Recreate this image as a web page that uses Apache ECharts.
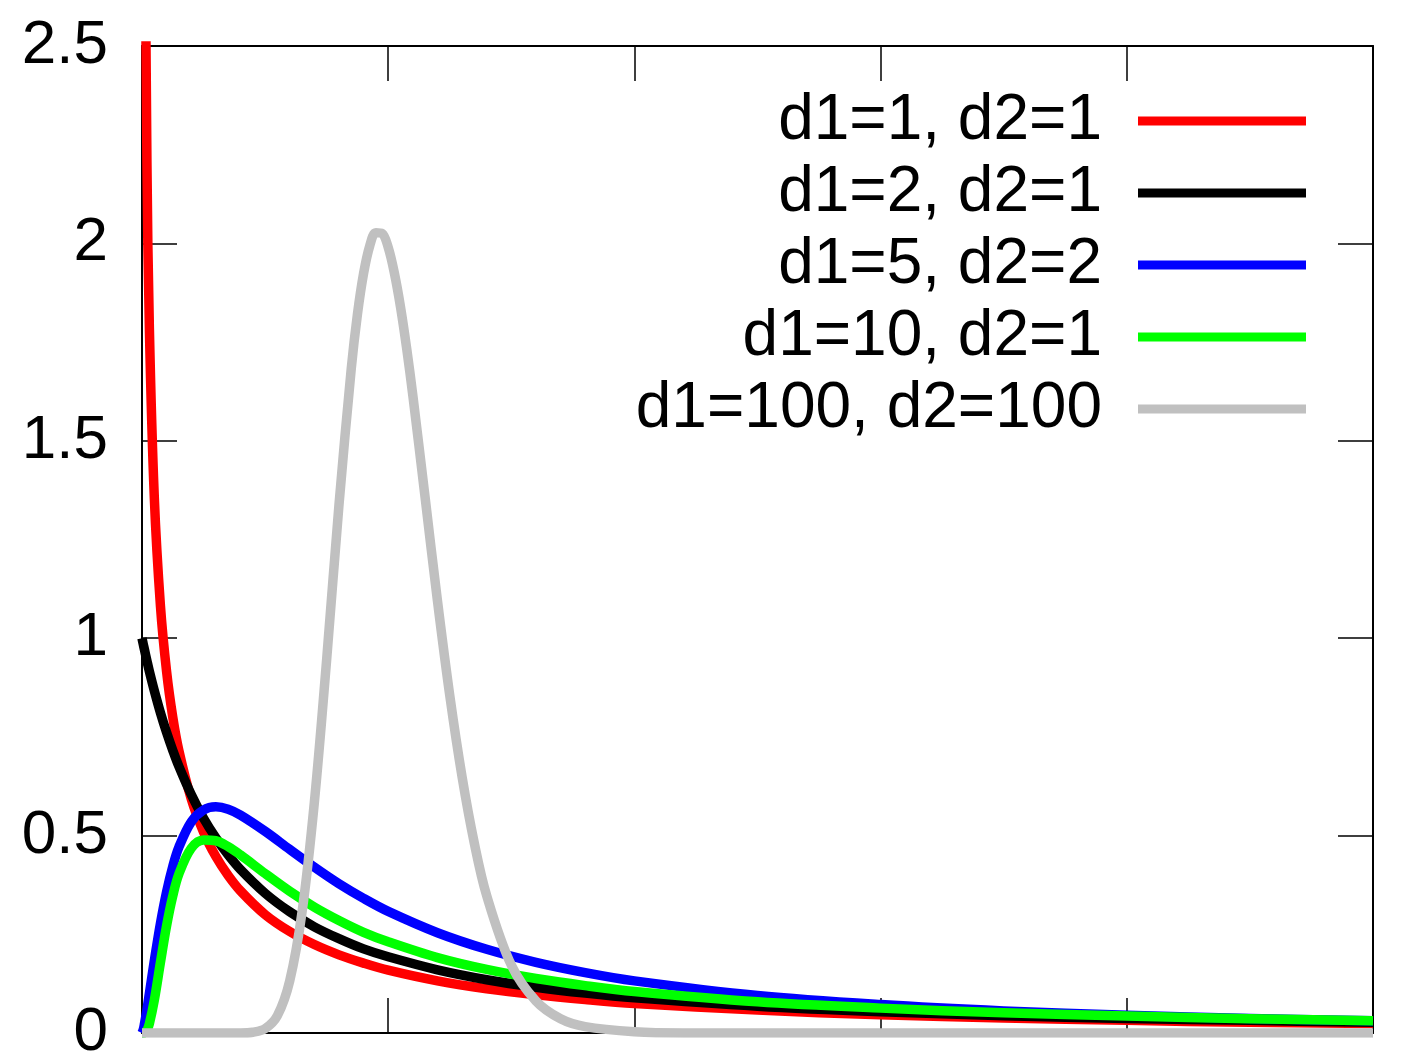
<!DOCTYPE html>
<html>
<head>
<meta charset="utf-8">
<title>F-distribution pdf</title>
<script src="https://cdn.jsdelivr.net/npm/echarts@6/dist/echarts.min.js"></script>
<style>
  html, body { margin: 0; padding: 0; background: #fff; }
  #chart { width: 1428px; height: 1062px; }
</style>
</head>
<body>
<div id="chart"></div>
<script>
// x positions shared by the first four curves
const xs = [0, 0.005, 0.01, 0.02, 0.03, 0.05, 0.075, 0.1, 0.125, 0.15, 0.2, 0.25, 0.3, 0.35, 0.4,
  0.5, 0.6, 0.7, 0.8, 0.9, 1.0, 1.2, 1.4, 1.6, 1.8, 2.0, 2.5, 3.0, 3.5, 4.0, 4.5, 5.0];

const pdf_1_1 = [null, 4.48, 3.152, 2.207, 1.784, 1.356, 1.081, 0.915, 0.800, 0.715, 0.593, 0.509, 0.447, 0.399, 0.360,
  0.300, 0.257, 0.224, 0.198, 0.177, 0.159, 0.132, 0.112, 0.097, 0.085, 0.075, 0.058, 0.046, 0.038, 0.032, 0.027, 0.024];
const pdf_2_1 = [1, 0.985, 0.971, 0.943, 0.916, 0.867, 0.811, 0.761, 0.716, 0.675, 0.604, 0.544, 0.494, 0.451, 0.414,
  0.354, 0.307, 0.269, 0.239, 0.213, 0.193, 0.160, 0.135, 0.116, 0.101, 0.089, 0.068, 0.054, 0.044, 0.037, 0.032, 0.027];
const pdf_5_2 = [0, 0.008, 0.023, 0.059, 0.100, 0.183, 0.278, 0.358, 0.422, 0.471, 0.535, 0.565, 0.573, 0.567, 0.552,
  0.511, 0.465, 0.420, 0.378, 0.341, 0.308, 0.254, 0.212, 0.179, 0.153, 0.132, 0.095, 0.072, 0.056, 0.045, 0.037, 0.031];
const pdf_10_1 = [0, 0.000, 0.001, 0.007, 0.024, 0.083, 0.179, 0.272, 0.347, 0.403, 0.468, 0.489, 0.487, 0.472, 0.451,
  0.404, 0.359, 0.319, 0.285, 0.255, 0.231, 0.191, 0.161, 0.138, 0.120, 0.105, 0.079, 0.063, 0.051, 0.043, 0.036, 0.031];

// the narrow d1=100, d2=100 peak gets its own, denser x positions
const xsNarrow = [0, 0.3, 0.4, 0.45, 0.5, 0.55, 0.6, 0.65, 0.7, 0.75, 0.8, 0.85, 0.875, 0.9, 0.925, 0.95, 0.975,
  1.0, 1.025, 1.05, 1.075, 1.1, 1.15, 1.2, 1.25, 1.3, 1.35, 1.4, 1.5, 1.6, 1.7, 1.8, 2.0, 2.2, 2.5, 3, 4, 5];
const pdf_100_100 = [0, 0, 0.000, 0.002, 0.011, 0.044, 0.132, 0.306, 0.584, 0.946, 1.337, 1.683, 1.820, 1.924, 1.994,
  2.027, 2.025, 1.990, 1.925, 1.839, 1.734, 1.615, 1.356, 1.095, 0.855, 0.649, 0.480, 0.348, 0.172, 0.081, 0.036,
  0.016, 0.003, 0.000, 0, 0, 0, 0];

const names = ['d1=1, d2=1', 'd1=2, d2=1', 'd1=5, d2=2', 'd1=10, d2=1', 'd1=100, d2=100'];
const colors = ['#ff0000', '#000000', '#0000ff', '#00ff00', '#c0c0c0'];

const font = '"Liberation Sans", Arial, sans-serif';
const pair = (x, y) => x.map((v, i) => [v, y[i]]);

const curves = [
  pair(xs, pdf_1_1),
  pair(xs, pdf_2_1),
  pair(xs, pdf_5_2),
  pair(xs, pdf_10_1),
  pair(xsNarrow, pdf_100_100)
];

const frameAxis = (position, showLabel) => ({
  type: 'value',
  position: position,
  min: 0,
  max: position === 'left' || position === 'right' ? 2.5 : 5,
  interval: position === 'left' || position === 'right' ? 0.5 : 1,
  axisLine: { show: true, onZero: false, lineStyle: { color: '#000', width: 2 } },
  axisTick: { show: true, inside: true, length: 35, lineStyle: { color: '#000', width: 1.5 } },
  axisLabel: {
    show: showLabel,
    color: '#000',
    fontSize: 62,
    fontFamily: font,
    margin: 34
  },
  splitLine: { show: false }
});

const chart = echarts.init(document.getElementById('chart'), null, { renderer: 'canvas' });

const option = {
  backgroundColor: '#fff',
  animation: false,
  grid: { left: 142, right: 55, top: 46, bottom: 29, containLabel: false, outerBoundsMode: 'none' },
  xAxis: [frameAxis('bottom', false), frameAxis('top', false)],
  yAxis: [frameAxis('left', true), frameAxis('right', false)],
  legend: {
    data: names,
    orient: 'vertical',
    align: 'right',
    right: 117,
    top: 84,
    itemGap: 8,
    itemWidth: 168,
    itemHeight: 9,
    icon: 'rect',
    textStyle: { fontSize: 64, color: '#000', fontFamily: font, padding: [0, 31, 0, 0] }
  },
  series: curves.map((d, i) => ({
    name: names[i],
    type: 'line',
    data: d,
    xAxisIndex: 0,
    yAxisIndex: 0,
    showSymbol: false,
    smooth: 0.35,
    clip: true,
    color: colors[i],
    lineStyle: { width: 9.5, color: colors[i], cap: 'butt', join: 'round' }
  }))
};

chart.setOption(option);
</script>
</body>
</html>
